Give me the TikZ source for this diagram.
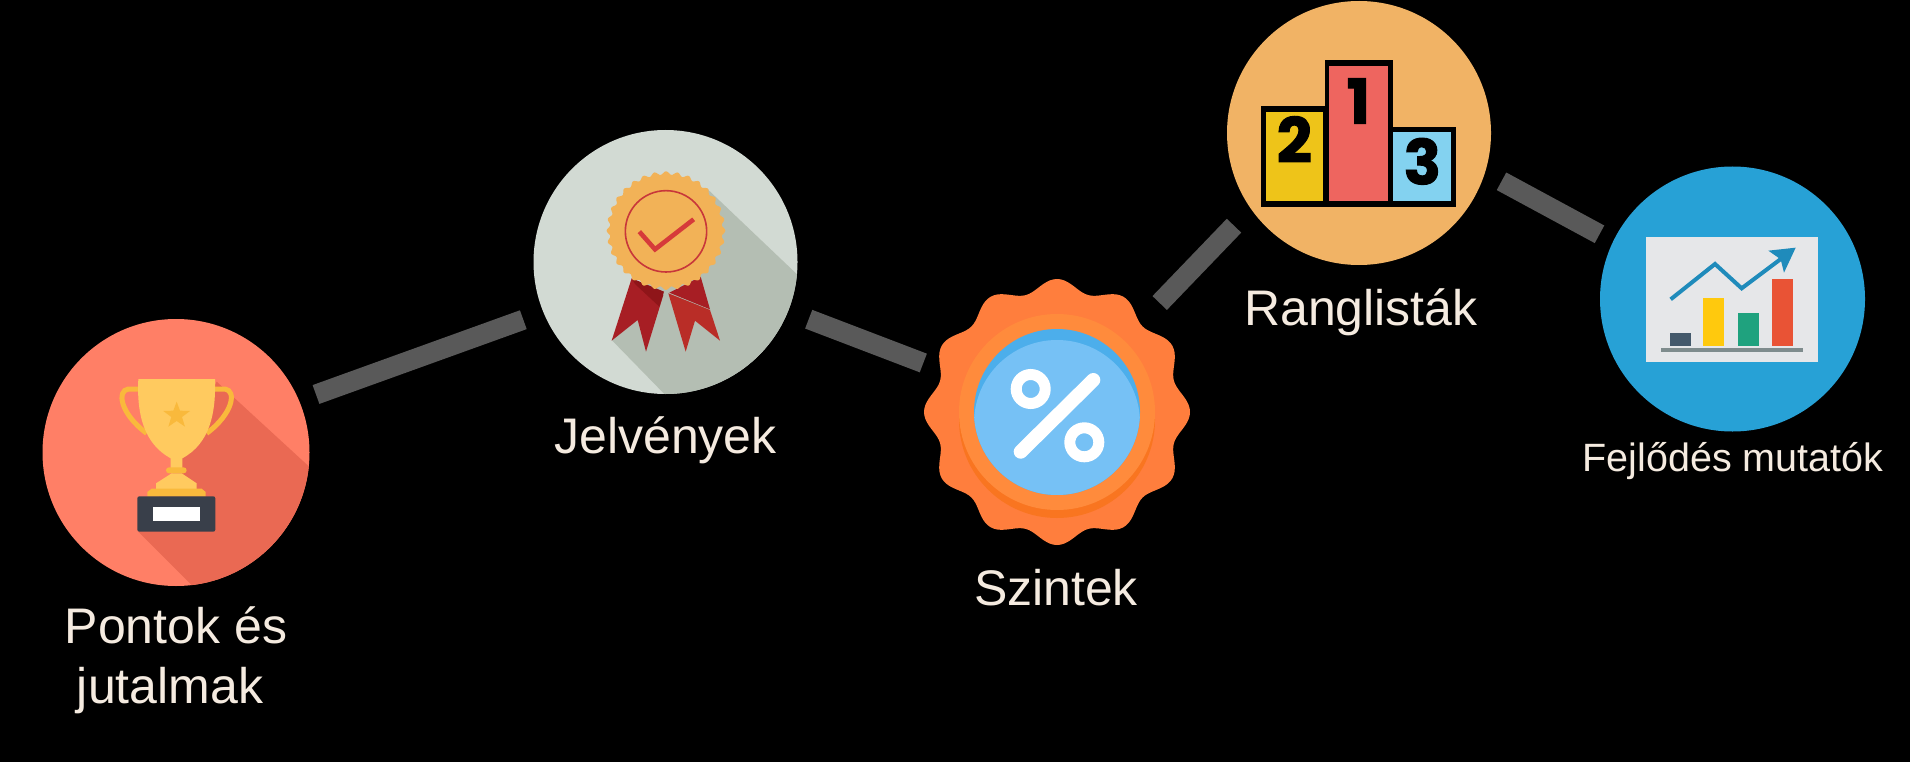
\documentclass[tikz,border=0pt]{standalone}
\usepackage{fontspec}
\setmainfont{Liberation Sans}
\newfontfamily\digitfont[FakeBold=1.5]{Poppins Bold}
\definecolor{cream}{HTML}{F5EBE0}
\definecolor{linkgray}{HTML}{595959}
\tikzset{
  disc/.style={circle,inner sep=0pt,minimum size=#1,draw=none},
  lbl/.style={text=cream,inner sep=0pt,anchor=base,font=\fontsize{50}{60.6}\selectfont},
  link/.style={draw=linkgray,line width=20pt},
  dig/.style={text=black,inner sep=0pt,font=\digitfont\fontsize{62}{62}\selectfont},
}
\begin{document}
\begin{tikzpicture}[x=1pt,y=-1pt]
\useasboundingbox (0,0) rectangle (1910,762);
\fill[black] (0,0) rectangle (1910,762);

% ---------- trophy
\node[disc=267pt,fill={rgb,255:red,255;green,127;blue,102}] (trophy) at (176,452.5) {};
\begin{scope}
\clip (176,452.5) circle (133.5);
\begin{scope}[shift={(20,300)},x=0.33333pt,y=-0.33333pt]
\fill[color={rgb,255:red,234;green,105;blue,83}] (590,245)--(900,530)--(900,900)--(550,890)--(355,695)--(470,500)--cycle;
\end{scope}
\end{scope}
\begin{scope}[shift={(20,300)},x=0.33333pt,y=-0.33333pt]
\definecolor{cupa}{HTML}{FFCA5F}\definecolor{cupb}{HTML}{F9B93C}
\draw[cupb,line width=5pt] (355,267)--(325,267) .. controls (290,272) and (300,340) .. (380,400);
\draw[cupb,line width=5pt] (585,267)--(615,267) .. controls (650,272) and (640,340) .. (560,400);
\fill[cupa] (355,237)--(585,237) .. controls (588,340) and (570,430) .. (487,475)--(487,505)--(452,505)--(452,475) .. controls (370,430) and (350,340) .. (355,237)--cycle;
\fill[cupb] (470,305)--(480,332)--(510,333)--(486,351)--(495,380)--(470,363)--(445,380)--(454,351)--(430,333)--(460,332)--cycle;
\fill[cupb,rounded corners=3pt] (438,502) rectangle (500,520);
\fill[cupa] (455,520)--(485,520)--(530,550)--(530,568)--(408,568)--(408,550)--cycle;
\fill[cupb] (395,566)--(545,566)--(557,576)--(557,590)--(382,590)--(382,576)--cycle;
\fill[color={rgb,255:red,57;green,63;blue,74},rounded corners=2pt] (352,589) rectangle (586,695);
\fill[white] (400,622) rectangle (540,662);
\end{scope}

% ---------- rosette
\node[disc=264pt,fill={rgb,255:red,210;green,218;blue,211}] (rosette) at (665.5,262) {};
\begin{scope}
\clip (665.5,262) circle (132);
\begin{scope}[shift={(510,110)},x=0.33333pt,y=-0.33333pt]
\fill[color={rgb,255:red,180;green,190;blue,179}] (590,235)--(900,530)--(900,900)--(500,890)--(305,690)--(470,360)--cycle;
\end{scope}
\end{scope}
\begin{scope}[shift={(510,110)},x=0.33333pt,y=-0.33333pt]
\definecolor{ribb}{HTML}{A71E24}\definecolor{ribc}{HTML}{B92D27}\definecolor{ribd}{HTML}{8F1519}
\fill[ribb] (365,505)--(460,555)--(408,725)--(383,630)--(305,692)--cycle;
\fill[ribd] (365,505)--(375,522)--(448,590)--(462,545)--cycle;
\fill[ribc] (475,550)--(600,600)--(630,692)--(555,632)--(527,725)--cycle;
\fill[ribb] (478,548)--(600,598)--(572,500)--cycle;
\fill[color={rgb,255:red,242;green,178;blue,87}] plot[domain=0:360,samples=321,smooth] ({468+(173+5*cos(32*\x))*cos(\x)},{362+(173+5*cos(32*\x))*sin(\x)})--cycle;
\draw[color={rgb,255:red,200;green,55;blue,58},line width=1.6pt] (468,364) circle (122);
\draw[color={rgb,255:red,214;green,58;blue,58},line width=4.6pt] (388,365)--(435,418)--(551,328);
\end{scope}

% ---------- percent seal
\coordinate (seal) at (1057,412);
\fill[color={rgb,255:red,255;green,126;blue,61}] plot[domain=0:360,samples=241,smooth] ({1057+(127+6*cos(12*\x))*cos(\x)},{412+(127+6*cos(12*\x))*sin(\x)})--cycle;
\fill[color={rgb,255:red,249;green,117;blue,32}] (1057,420) circle (98);
\fill[color={rgb,255:red,255;green,139;blue,60}] (1057,412) circle (98);
\fill[color={rgb,255:red,76;green,174;blue,235}] (1057,412) circle (83);
\begin{scope}
\clip (1057,412) circle (83);
\fill[color={rgb,255:red,118;green,193;blue,245}] (1057,423) circle (83);
\end{scope}
\draw[white,line width=11pt] (1030.7,389) circle (14.5);
\draw[white,line width=11pt] (1084.3,442.3) circle (14.5);
\draw[white,line width=14pt,line cap=round] (1093.3,380)--(1020.7,451.7);

% ---------- podium
\node[disc=264pt,fill={rgb,255:red,241;green,179;blue,101}] (podium) at (1359,133) {};
\begin{scope}[shift={(1210,0)},x=0.33333pt,y=-0.33333pt]
\fill[black] (152,318) rectangle (350,620);
\fill[black] (345,180) rectangle (548,620);
\fill[black] (540,380) rectangle (738,620);
\fill[color={rgb,255:red,238;green,196;blue,25}] (168,335) rectangle (340,603);
\fill[color={rgb,255:red,238;green,101;blue,95}] (358,197) rectangle (533,603);
\fill[color={rgb,255:red,131;green,210;blue,240}] (548,397) rectangle (723,603);
\node[dig] (d2) at (253,418) {2};
\node[dig] (d1) at (445,303) {1};
\node[dig] (d3) at (637,484) {3};
\end{scope}

% ---------- chart
\node[disc=265pt,fill={rgb,255:red,39;green,161;blue,214}] (chart) at (1732.5,299) {};
\begin{scope}[shift={(1590,160)},x=0.33333pt,y=-0.33333pt]
\fill[color={rgb,255:red,230;green,231;blue,233}] (168,232) rectangle (685,605);
\fill[color={rgb,255:red,68;green,89;blue,107}] (240,520) rectangle (302,558);
\fill[color={rgb,255:red,255;green,201;blue,13}] (338,415) rectangle (402,558);
\fill[color={rgb,255:red,31;green,162;blue,126}] (443,458) rectangle (507,558);
\fill[color={rgb,255:red,233;green,83;blue,53}] (547,358) rectangle (610,558);
\fill[color={rgb,255:red,127;green,140;blue,141}] (214,564) rectangle (640,576);
\draw[color={rgb,255:red,31;green,139;blue,187},line width=4pt] (242,418)--(375,312)--(455,385)--(575,295);
\fill[color={rgb,255:red,31;green,139;blue,187}] (535,272)--(617,263)--(582,338)--(572,298)--cycle;
\end{scope}

% ---------- connectors
\coordinate (a1) at (316,394.5);  \coordinate (b1) at (523.3,319.7);
\coordinate (a2) at (808.7,319.2);\coordinate (b2) at (923.3,363);
\coordinate (a3) at (1159.7,303); \coordinate (b3) at (1234,225.7);
\coordinate (a4) at (1501.5,181.3);\coordinate (b4) at (1599.5,234.3);
\draw[link] (a1)--(b1);
\draw[link] (a2)--(b2);
\draw[link] (a3)--(b3);
\draw[link] (a4)--(b4);

% ---------- labels
\node[lbl] (t1a) at (176,643) {Pontok és};
\node[lbl] (t1b) at (170,703.6) {jutalmak};
\node[lbl] (t2) at (665.5,453.5) {Jelvények};
\node[lbl] (t3) at (1056,605.5) {Szintek};
\node[lbl] (t4) at (1361,325.5) {Ranglisták};
\node[lbl,font=\fontsize{39.5}{48}\selectfont] (t5) at (1733,471.5) {Fejlődés mutatók};
\end{tikzpicture}
\end{document}
